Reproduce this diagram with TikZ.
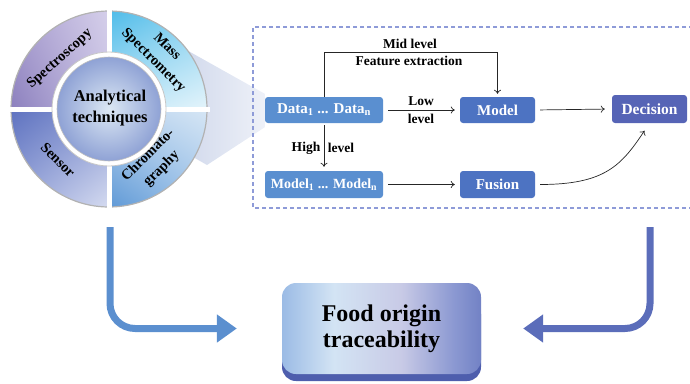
\documentclass[tikz,border=0pt]{standalone}
\usepackage{fontspec}
\setmainfont{Liberation Serif}
\usetikzlibrary{arrows.meta,shadings,backgrounds}
\definecolor{cData}{HTML}{5A8FD0}
\definecolor{cModel}{HTML}{4D73C2}
\definecolor{cDec}{HTML}{5664B6}
\definecolor{cDash}{HTML}{8E9BD8}
\definecolor{cLeft}{HTML}{5B8FCF}
\definecolor{cRight}{HTML}{5B6DBA}
\definecolor{cShadow}{HTML}{4E5EAD}
\definecolor{fA}{HTML}{9BBBE5}
\definecolor{fB}{HTML}{D3E4F4}
\definecolor{fC}{HTML}{C8CAE6}
\definecolor{fD}{HTML}{8C99D2}
\definecolor{fE}{HTML}{7282C5}
\definecolor{qa1}{HTML}{A99ED0}\definecolor{qa2}{HTML}{D5CFEA}\definecolor{qa3}{HTML}{8C80BE}\definecolor{qa4}{HTML}{C9C2E3}
\definecolor{qb1}{HTML}{4FBCE9}\definecolor{qb2}{HTML}{8ED3F0}\definecolor{qb3}{HTML}{BFE6F7}\definecolor{qb4}{HTML}{E4F4FB}
\definecolor{qc1}{HTML}{5E72C0}\definecolor{qc2}{HTML}{8C9BD3}\definecolor{qc3}{HTML}{98A6DA}\definecolor{qc4}{HTML}{D5DBF0}
\definecolor{qd1}{HTML}{B9D3EE}\definecolor{qd2}{HTML}{D6E6F5}\definecolor{qd3}{HTML}{5F99D6}\definecolor{qd4}{HTML}{9EC3E9}
\definecolor{inA}{HTML}{DCE8F4}\definecolor{inB}{HTML}{8FA2D5}
\definecolor{coneA}{HTML}{B7C3E1}\definecolor{coneB}{HTML}{EEF1F8}
\pgfdeclarehorizontalshading{foodshade}{100bp}{color(0bp)=(fA); color(25bp)=(fA); color(38bp)=(fB); color(55bp)=(fC); color(68bp)=(fD); color(75bp)=(fE); color(100bp)=(fE)}
\begin{document}
\begin{tikzpicture}[x=1pt,y=-1pt,
  box/.style={rounded corners=3pt, text=white, font=\bfseries\fontsize{15}{17}\selectfont, minimum height=26pt, inner sep=0pt},
  lbl/.style={font=\bfseries\fontsize{13.5}{15}\selectfont, inner sep=0pt, text=black},
  quad/.style={font=\bfseries\fontsize{14.5}{19}\selectfont, inner sep=0pt, align=center, text=black},
  conn/.style={-{To[length=4pt,width=7pt]}, line width=0.7pt, black!85},
  bigarrow/.style={line width=7pt, rounded corners=25pt, -{Triangle[length=20pt,width=27pt]}}]
\useasboundingbox (0,0) rectangle (690,383);
\clip (0,0) rectangle (690,383);
\coordinate (C) at (109,109);

% flow nodes
\node[box, fill=cData, minimum width=118pt] (data) at (324,110) {Data\textsubscript{1} ... Data\textsubscript{n}};

% zoom cone and analytical-techniques wheel, behind the flow
\begin{scope}[on background layer]
\shade[left color=coneA, right color=coneB]
  (C) -- (183,48) -- ([yshift=3pt]data.north west) -- ([yshift=-4pt]data.south west) -- (207,165) -- cycle;
\begin{scope}
\clip (C) circle (98pt);
\shade[upper left=qa1, upper right=qa2, lower left=qa3, lower right=qa4] (11,11) rectangle (C);
\shade[upper left=qb1, upper right=qb2, lower left=qb3, lower right=qb4] (C) rectangle (207,11);
\shade[upper left=qc1, upper right=qc2, lower left=qc3, lower right=qc4] (11,109) rectangle (109,207);
\shade[upper left=qd1, upper right=qd2, lower left=qd3, lower right=qd4] (C) rectangle (207,207);
\end{scope}
\draw[black!30, line width=1.2pt] (C) circle (98pt);
\draw[white, line width=5pt] (8,109) -- (210,109);
\draw[white, line width=5pt] (109,8) -- (109,210);
\fill[white] (C) circle (57pt);
\draw[black!22, line width=0.8pt] (C) circle (57pt);
\shade[inner color=inA, outer color=inB] (C) circle (52pt);
\draw[black!25, line width=0.6pt] (C) circle (52pt);
\end{scope}

\node[font=\bfseries\fontsize{16.5}{21}\selectfont, align=center, inner sep=0pt] (center) at (110,108) {Analytical\\techniques};
\node[quad, rotate=42] (spec) at (60,59) {Spectroscopy};
\node[quad, rotate=-45] (mass) at (160,54) {Mass\\Spectrometry};
\node[quad, rotate=-45] (sens) at (58,160) {Sensor};
\node[quad, rotate=45] (chrom) at (155,162) {Chromato-\\graphy};

% dashed frame
\draw[cDash, dashed, dash pattern=on 4pt off 3pt, line width=1.2pt] (700,27) -- (253,27) -- (253,208) -- (700,208);

\node[box, fill=cModel, minimum width=75pt] (model) at (497.5,110) {Model};
\node[box, fill=cDec, minimum width=75pt, minimum height=28pt, font=\bfseries\fontsize{15.5}{17}\selectfont] (dec) at (649.5,109) {Decision};
\node[box, fill=cData, minimum width=118pt, minimum height=27pt, font=\bfseries\fontsize{14}{16}\selectfont] (models) at (324,184.5) {Model\textsubscript{1} ... Model\textsubscript{n}};
\node[box, fill=cModel, minimum width=75pt, minimum height=27pt] (fusion) at (497.5,184.5) {Fusion};

\coordinate (midy) at (0,52);
\draw[conn, shorten >=3pt] (data.north) |- (model.north |- midy) -- (model.north);
\node[lbl] (midl) at (410,44) {Mid level};
\node[lbl] (feat) at (409,61) {Feature extraction};

\draw[conn, shorten <=5pt, shorten >=5pt] (data.east) -- (model.west);
\node[lbl] (low) at (421,101) {Low};
\node[lbl] (lowl) at (421,119) {level};

\draw[conn, shorten <=2pt, shorten >=4pt] (data.south) -- (models.north);
\node[lbl] (high) at (306,148) {High};
\node[lbl] (highl) at (341,148) {level};

\draw[conn, shorten <=5pt, shorten >=5pt] (models.east) -- (fusion.west);
\draw[conn, shorten <=5pt, shorten >=7pt] (model.east) -- (dec.west);
\draw[conn, shorten <=5pt, shorten >=9pt] (fusion.east) .. controls +(70,0) and +(-28,42) .. (dec.south);

% food box
\fill[cShadow, rounded corners=14pt] (282,300) rectangle (481,381);
\node[shading=foodshade, rounded corners=14pt, minimum width=199pt, minimum height=91pt, inner sep=0pt, font=\bfseries\fontsize{24}{26}\selectfont, align=center] (food) at (381.5,328.5) {Food origin\\traceability};

\coordinate (ls) at (110,227);
\coordinate (rs) at (650,227);
\draw[bigarrow, cLeft] (ls) |- ([xshift=-45pt]food.west);
\draw[bigarrow, cRight] (rs) |- ([xshift=42pt]food.east);
\end{tikzpicture}
\end{document}
